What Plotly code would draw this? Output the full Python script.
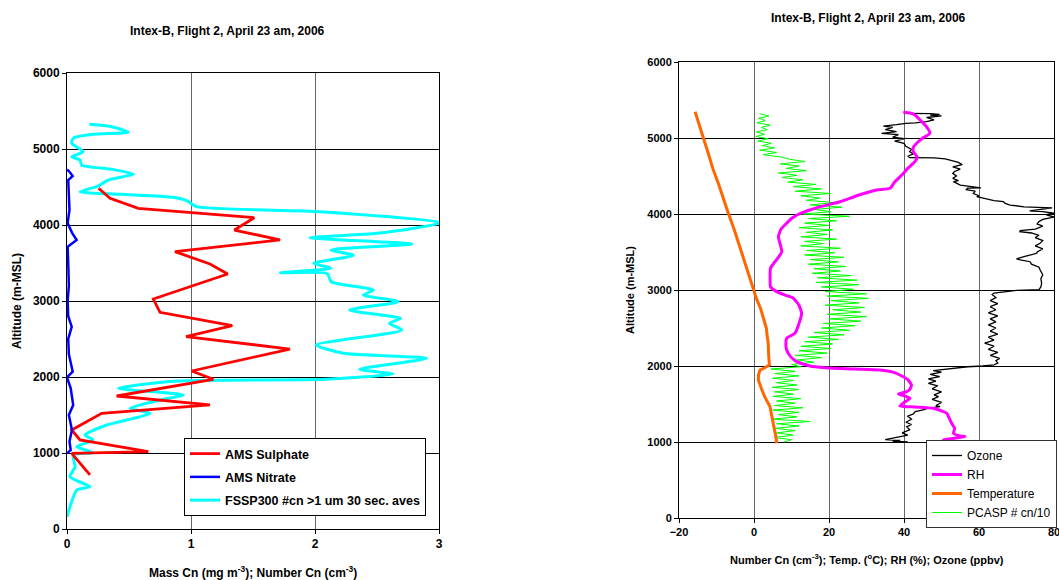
import plotly.graph_objects as go

# ---------------- Left chart data ----------------
sulphate_alt = [4483, 4351, 4220, 4096, 3934, 3803, 3649, 3487, 3355, 3026, 2851, 2675, 2530,
                2368, 2079, 1970, 1750, 1632, 1522, 1303, 1171, 1017, 996, 711]
sulphate_val = [0.255, 0.347, 0.575, 1.51, 1.35, 1.718, 0.871, 1.153, 1.296, 0.696, 0.75, 1.333, 0.96,
                1.798, 1.005, 1.18, 0.40, 1.153, 0.28, 0.038, 0.105, 0.656, 0.038, 0.185]

nitrate_alt = [4730, 4700, 4645, 4592, 4400, 4197, 4026, 3900, 3803, 3714, 3500, 3200, 3000, 2800,
               2662, 2500, 2300, 2070, 1995, 1850, 1632, 1500, 1303, 1150, 1039, 996]
nitrate_val = [0.0, 0.02, 0.046, 0.01, 0.015, 0.02, 0.005, 0.04, 0.078, 0.005, 0.01, 0.015, 0.005, 0.01,
               0.038, 0.01, 0.015, 0.046, 0.0, 0.03, 0.05, 0.015, 0.04, 0.02, 0.03, 0.0]

fssp_alt = [5325, 5294, 5220, 5193, 5141, 5075, 4964, 4899, 4855, 4789, 4737, 4671, 4592, 4513, 4438,
            4404, 4364, 4320, 4241, 4175, 4030, 3890, 3833, 3750, 3671, 3601, 3496, 3430, 3372, 3360,
            3254, 3145, 3079, 2991, 2882, 2772, 2707, 2618, 2421, 2312, 2246, 2101, 2039, 1970, 1947,
            1851, 1763, 1697, 1588, 1522, 1368, 1237, 1171, 1083, 1004, 974, 820, 688, 557, 513, 293, 162]
fssp_val = [0.18, 0.36, 0.495, 0.21, 0.05, 0.038, 0.13, 0.038, 0.105, 0.118, 0.347, 0.535, 0.333, 0.25, 0.105,
            0.43, 0.857, 0.965, 1.046, 2.04, 3.02, 2.5, 1.96, 2.78, 2.13, 2.31, 1.99, 2.13, 1.72, 2.1,
            2.13, 2.47, 2.39, 2.67, 2.28, 2.69, 2.6, 2.70, 2.01, 2.23, 2.90, 2.36, 2.63, 2.09, 0.885,
            0.414, 0.938, 0.75, 0.508, 0.67, 0.32, 0.145, 0.21, 0.078, 0.21, 0.05, 0.065, 0.024, 0.185, 0.078, 0.024, 0.0]

# ---------------- Right chart data ----------------
ozone_alt = [5325, 5322, 5310, 5300, 5290, 5270, 5240, 5215, 5200, 5193, 5175, 5155, 5140, 5110, 5085, 5062,
             5045, 5010, 4990, 4960, 4930, 4890, 4850, 4820, 4790, 4760, 4741, 4738, 4725, 4700, 4680, 4650,
             4620, 4590, 4560, 4535, 4500, 4470, 4440, 4425, 4380, 4345, 4340, 4320, 4300, 4270, 4240, 4228,
             4200, 4175, 4162, 4140, 4118, 4095, 4080, 4060, 4040, 4030, 4010, 3990, 3960, 3930, 3900, 3870,
             3840, 3800, 3780, 3767, 3750, 3720, 3690, 3650, 3614, 3580, 3540, 3500, 3483, 3440, 3410, 3395,
             3372, 3340, 3300, 3263, 3200, 3150, 3088, 3040, 3005, 2995, 2975, 2960, 2940, 2900, 2860, 2820,
             2780, 2740, 2700, 2660, 2620, 2580, 2540, 2500, 2460, 2420, 2380, 2340, 2300, 2260, 2220, 2180,
             2140, 2100, 2070, 2040, 2015, 2000, 1990, 1975, 1960, 1940, 1920, 1890, 1860, 1830, 1800, 1770,
             1740, 1700, 1660, 1620, 1596, 1560, 1520, 1480, 1465, 1440, 1421, 1400, 1370, 1340, 1300, 1260,
             1230, 1200, 1160, 1120, 1090, 1070, 1050, 1030, 1020, 1010, 1000]
ozone_val = [41, 47, 49.5, 47, 50, 46, 48, 46, 43, 40.5, 38, 34.5, 37, 35, 38, 34,
             38.5, 37, 40, 37.5, 40, 40.5, 42, 41.5, 42.5, 41, 41.6, 48, 51, 53, 54.5, 55.5,
             53, 55, 53.5, 53, 54, 53, 54.5, 53.2, 55, 60.5, 57, 56.5, 59, 58.5, 60, 59.4,
             62, 64, 66.5, 67, 68.3, 72, 79.5, 76, 73.5, 77, 80, 78, 80, 77, 76, 75.5,
             77, 75, 71, 70.9, 74, 76, 75, 77, 76.3, 75, 77, 75.5, 75.4, 72, 70, 71,
             73.6, 74, 76, 76.3, 77, 76.5, 76.7, 76.5, 76, 70, 66, 64, 63.5, 64.5, 63, 65,
             63, 64.5, 62.5, 65, 63, 64.5, 62.5, 64.5, 63, 65, 62.5, 64, 61.5, 64, 62.5, 65,
             63, 65.5, 64.5, 65, 64, 61, 57, 54, 50, 47.8, 50, 47, 49.5, 46.5, 48.5, 46.5,
             49, 47.5, 50, 48, 49.2, 47.5, 50, 48.5, 49.6, 46, 45.1, 43, 42.5, 41, 42, 40.5,
             42, 40.7, 41.5, 39.5, 41, 38.9, 37, 35, 39, 37, 41]

rh_alt = [5338, 5329, 5300, 5237, 5150, 5062, 5000, 4951, 4880, 4820, 4750, 4688, 4600, 4513, 4420, 4338,
          4316, 4250, 4162, 4100, 4053, 4000, 3940, 3878, 3800, 3701, 3600, 3504, 3430, 3372, 3286, 3150,
          3043, 2978, 2930, 2891, 2800, 2693, 2560, 2430, 2364, 2280, 2210, 2120, 2057, 2000, 1978, 1960,
          1947, 1920, 1882, 1820, 1750, 1690, 1662, 1632, 1600, 1575, 1520, 1474, 1460, 1443, 1400, 1378,
          1320, 1246, 1180, 1114, 1080, 1070, 1040, 1026, 1005]
rh_val = [39.8, 41.6, 43, 44.3, 46, 46.9, 45, 43.8, 42.5, 42.5, 43.5, 42.9, 41, 39.4, 37.5, 36.3,
          32.7, 28, 22.9, 18, 14.9, 12, 10, 8.7, 7.2, 6.5, 7, 7.4, 6.5, 5.6, 4.4, 4.3,
          4.4, 6.05, 8.5, 10.5, 12, 12.7, 12, 10.9, 8.7, 8.5, 8.7, 9.8, 11.4, 14.9, 18.9, 27,
          33.6, 37, 38.9, 41, 42.0, 41.5, 40.7, 38.5, 40.5, 41.6, 40, 38.9, 43, 47.8, 50.5, 51.4,
          52, 52.7, 53.5, 53.2, 55, 56.3, 52, 50.5, 51.5]

temp_alt = [5346, 5200, 5000, 4800, 4600, 4400, 4200, 4009, 3800, 3600, 3400, 3200, 3000, 2880, 2750, 2600,
            2496, 2400, 2298, 2150, 2013, 1980, 1947, 1880, 1816, 1700, 1600, 1465, 1350, 1200, 1080, 983]
temp_val = [-15.7, -14.7, -13.5, -12.2, -11, -9.5, -8.2, -6.85, -5.3, -4, -2.6, -1.3, 0, 0.7, 1.8, 2.8,
            3.3, 3.5, 3.8, 3.9, 4.1, 3, 1.6, 1.2, 1.15, 2, 2.8, 4.27, 4.8, 5.3, 5.8, 6.05]

pcasp_alt = [5320, 5290, 5260, 5230, 5200, 5170, 5140, 5110, 5080, 5050,
             5020, 4990, 4960, 4930, 4900, 4870, 4840, 4810, 4780, 4750,
             4720, 4690, 4660, 4630, 4600, 4570, 4540, 4510, 4480, 4450,
             4420, 4390, 4360, 4330, 4300, 4270, 4240, 4210, 4180, 4150,
             4120, 4090, 4060, 4030, 4000, 3970, 3940, 3910, 3880, 3850,
             3820, 3790, 3760, 3730, 3700, 3670, 3640, 3610, 3580, 3550,
             3520, 3490, 3460, 3430, 3400, 3370, 3340, 3310, 3280, 3250,
             3220, 3190, 3160, 3130, 3100, 3070, 3040, 3010, 2980, 2950,
             2920, 2890, 2860, 2830, 2800, 2770, 2740, 2710, 2680, 2650,
             2620, 2590, 2560, 2530, 2500, 2470, 2440, 2410, 2380, 2350,
             2320, 2290, 2260, 2230, 2200, 2170, 2140, 2110, 2080, 2050,
             2020, 1990, 1960, 1930, 1900, 1870, 1840, 1810, 1780, 1750,
             1720, 1690, 1660, 1630, 1600, 1570, 1540, 1510, 1480, 1450,
             1420, 1390, 1360, 1330, 1300, 1270, 1240, 1210, 1180, 1150,
             1120, 1090, 1060, 1030, 1000]
pcasp_val = [1.5, 4.0, 1.2, 3.0, 0.8, 4.3, 2.0, 3.5, 0.6, 2.8,
             0.5, 3.8, 1.0, 4.6, 2.2, 5.5, 1.5, 6.0, 2.5, 7.2,
             9.5, 13.5, 7.0, 12.0, 8.5, 14.0, 6.5, 11.5, 7.5, 13.0,
             9.0, 16.5, 10.5, 18.0, 11.0, 20.5, 12.5, 17.5, 14.0, 21.5,
             15.0, 23.5, 16.0, 20.5, 13.0, 25.5, 14.5, 22.0, 13.5, 20.0,
             12.0, 21.0, 14.0, 19.5, 12.5, 22.0, 13.5, 18.5, 12.5, 23.0,
             14.0, 21.5, 13.5, 24.0, 15.0, 22.5, 14.5, 24.5, 16.0, 23.0,
             15.5, 26.0, 17.0, 27.5, 16.5, 28.0, 18.0, 26.5, 19.0, 30.0,
             19.5, 30.5, 20.5, 28.0, 19.0, 29.5, 21.0, 28.5, 19.5, 30.0,
             20.0, 28.5, 18.5, 27.0, 18.0, 25.5, 16.0, 24.0, 14.5, 22.5,
             13.5, 21.0, 12.5, 20.5, 12.0, 19.5, 11.0, 18.0, 11.5, 16.0,
             10.0, 12.5, 4.5, 11.0, 5.5, 12.0, 5.0, 10.5, 6.0, 11.5,
             4.8, 12.0, 5.5, 10.5, 5.0, 12.5, 6.0, 11.0, 5.5, 13.0,
             5.0, 12.0, 6.5, 11.5, 4.8, 15.0, 6.0, 12.0, 5.5, 11.0,
             6.0, 10.5, 5.5, 10.0, 8.0]

FONT = "Arial, 'Liberation Sans', sans-serif"
W, H = 1059, 580

fig = go.Figure()

# Left chart traces
fig.add_trace(go.Scatter(x=fssp_val, y=fssp_alt, mode="lines", name="FSSP300 #cn >1 um 30 sec. aves",
                         line=dict(color="#00FFFF", width=3, shape="spline", smoothing=0.6),
                         xaxis="x", yaxis="y", legend="legend", legendrank=3, legendgroup="c"))
fig.add_trace(go.Scatter(x=sulphate_val, y=sulphate_alt, mode="lines", name="AMS Sulphate",
                         line=dict(color="#FF0000", width=2.8),
                         xaxis="x", yaxis="y", legend="legend", legendrank=1, legendgroup="a"))
fig.add_trace(go.Scatter(x=nitrate_val, y=nitrate_alt, mode="lines", name="AMS Nitrate",
                         line=dict(color="#0000FF", width=2.5),
                         xaxis="x", yaxis="y", legend="legend", legendrank=2, legendgroup="b"))

# Right chart traces
fig.add_trace(go.Scatter(x=pcasp_val, y=pcasp_alt, mode="lines", name="PCASP # cn/10",
                         line=dict(color="#00FF00", width=1),
                         xaxis="x2", yaxis="y2", legend="legend2", legendrank=4))
fig.add_trace(go.Scatter(x=ozone_val, y=ozone_alt, mode="lines", name="Ozone",
                         line=dict(color="#000000", width=1.3),
                         xaxis="x2", yaxis="y2", legend="legend2", legendrank=1))
fig.add_trace(go.Scatter(x=rh_val, y=rh_alt, mode="lines", name="RH",
                         line=dict(color="#FF00FF", width=3, shape="spline", smoothing=0.5),
                         xaxis="x2", yaxis="y2", legend="legend2", legendrank=2))
fig.add_trace(go.Scatter(x=temp_val, y=temp_alt, mode="lines", name="Temperature",
                         line=dict(color="#FF6600", width=3),
                         xaxis="x2", yaxis="y2", legend="legend2", legendrank=3))

def px_x(p):
    return p / W

def px_y(p):
    return 1 - p / H

tickfont_l = dict(family=FONT, size=12, color="black", weight="bold")
tickfont_r = dict(family=FONT, size=11, color="black", weight="bold")

common_x = dict(showgrid=True, gridcolor="#666666", gridwidth=1, showline=True, linecolor="black",
                linewidth=1, mirror=True, ticks="outside", ticklen=4, tickcolor="black", zeroline=False,
                automargin=False, ticklabeloverflow="allow")
common_y = dict(showgrid=True, gridcolor="#000000", gridwidth=1, showline=True, linecolor="black",
                linewidth=1, mirror=True, ticks="outside", ticklen=4, tickcolor="black", zeroline=False,
                automargin=False)

fig.update_layout(
    width=W, height=H,
    margin=dict(l=0, r=0, t=0, b=0, autoexpand=False),
    paper_bgcolor="white", plot_bgcolor="white",
    font=dict(family=FONT, color="black"),
    xaxis=dict(domain=[px_x(67), px_x(439)], range=[0, 3], dtick=1, tickfont=tickfont_l,
               anchor="y", **common_x),
    yaxis=dict(domain=[px_y(529), px_y(73)], range=[0, 6000], dtick=1000, tickfont=tickfont_l,
               anchor="x", **common_y),
    xaxis2=dict(domain=[px_x(679), px_x(1054)], range=[-20, 80], dtick=20, tickfont=tickfont_r,
                anchor="y2", **common_x),
    yaxis2=dict(domain=[px_y(518), px_y(62)], range=[0, 6000], dtick=1000, tickfont=tickfont_r,
                anchor="x2", **common_y),
    showlegend=True,
    legend=dict(x=px_x(184), y=px_y(438), xanchor="left", yanchor="top",
                bordercolor="black", borderwidth=1, bgcolor="white",
                font=dict(family=FONT, size=12.5, color="black", weight="bold"),
                tracegroupgap=4, itemwidth=30, traceorder="grouped"),
    legend2=dict(x=px_x(1057), y=px_y(440), xanchor="right", yanchor="top",
                 bordercolor="#333333", borderwidth=1, bgcolor="white",
                 font=dict(family=FONT, size=12, color="black"),
                 itemwidth=30, tracegroupgap=0),
    annotations=[
        dict(text="Intex-B, Flight 2, April 23 am, 2006", x=px_x(227), y=px_y(31), xref="paper", yref="paper",
             showarrow=False, xanchor="center", yanchor="middle",
             font=dict(family=FONT, size=12, color="black", weight="bold")),
        dict(text="Intex-B, Flight 2, April 23 am, 2006", x=px_x(868), y=px_y(18), xref="paper", yref="paper",
             showarrow=False, xanchor="center", yanchor="middle",
             font=dict(family=FONT, size=12, color="black", weight="bold")),
        dict(text="Mass Cn (mg m<sup>-3</sup>); Number Cn (cm<sup>-3</sup>)", x=px_x(253), y=px_y(572),
             xref="paper", yref="paper", showarrow=False, xanchor="center", yanchor="middle",
             font=dict(family=FONT, size=12, color="black", weight="bold")),
        dict(text="Number Cn (cm<sup>-3</sup>); Temp. (<sup>o</sup>C); RH (%); Ozone (ppbv)", x=px_x(867),
             y=px_y(559), xref="paper", yref="paper", showarrow=False, xanchor="center", yanchor="middle",
             font=dict(family=FONT, size=11, color="black", weight="bold")),
        dict(text="Altitude (m-MSL)", x=px_x(17), y=px_y(301), xref="paper", yref="paper", textangle=-90,
             showarrow=False, xanchor="center", yanchor="middle",
             font=dict(family=FONT, size=12, color="black", weight="bold")),
        dict(text="Altitude (m-MSL)", x=px_x(630), y=px_y(290), xref="paper", yref="paper", textangle=-90,
             showarrow=False, xanchor="center", yanchor="middle",
             font=dict(family=FONT, size=11, color="black", weight="bold")),
    ],
)

fig.write_html("out.html", config={"displayModeBar": False},
               post_script="document.body.style.margin='0';document.body.style.padding='0';"
                           "document.body.style.overflow='hidden';")
